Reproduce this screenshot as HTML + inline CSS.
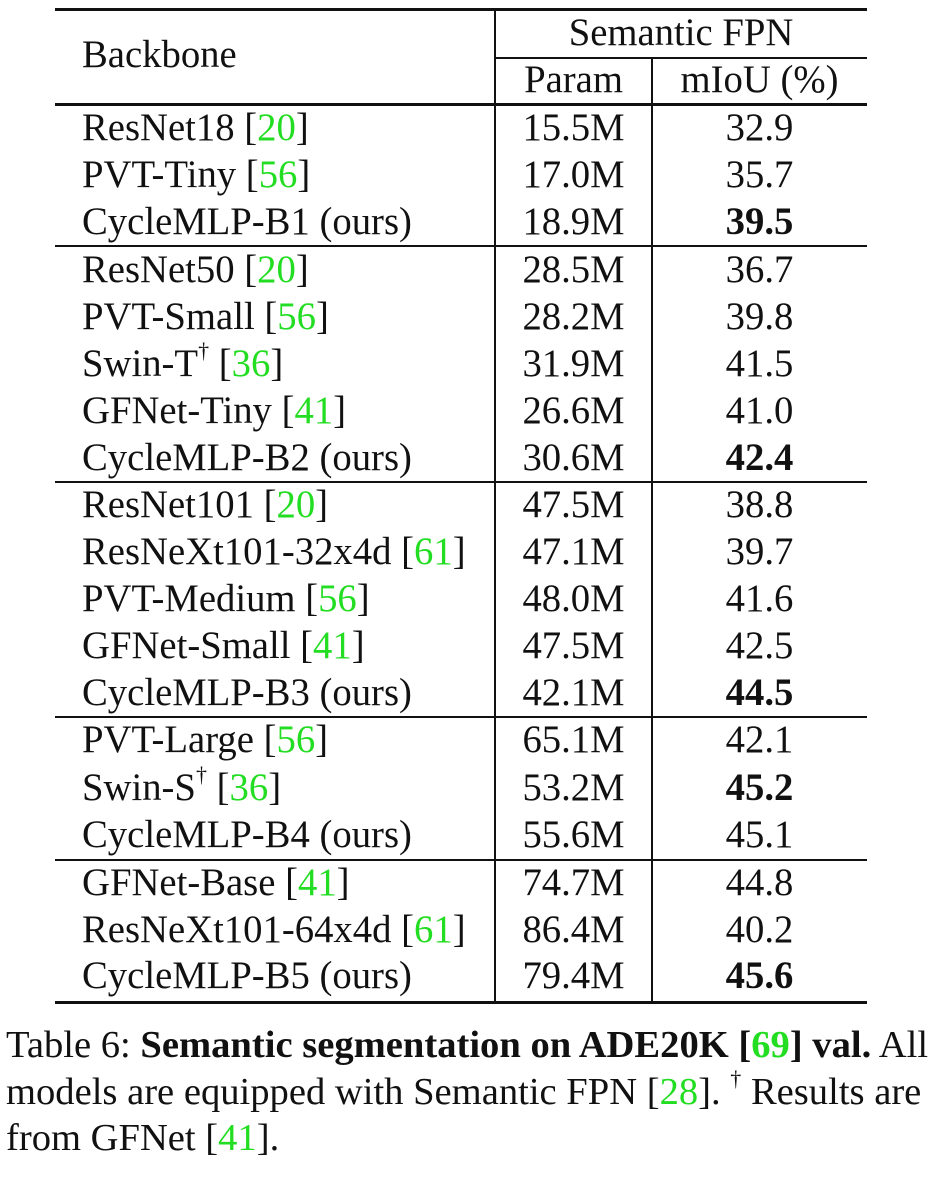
<!DOCTYPE html>
<html><head><meta charset="utf-8"><style>
body{margin:0;width:936px;height:1182px;background:#fff;position:relative;overflow:hidden;font-family:"Liberation Serif",serif;color:#111;}
.h{position:absolute;background:#111;}
.t{position:absolute;font-size:38.7px;line-height:46px;white-space:nowrap;}
.c1{left:82px;}
.c2{left:495px;width:157px;text-align:center;}
.c3{left:652px;width:215px;text-align:center;}
.g{color:#22dd22;}
b{font-weight:bold;}
.cap{position:absolute;left:6px;font-size:38.6px;line-height:46px;white-space:nowrap;}
sup{font-size:22px;vertical-align:top;line-height:0;position:relative;top:10px;}
</style></head><body>
<div class="h" style="left:55px;top:8px;width:812px;height:3px"></div>
<div class="h" style="left:495px;top:57px;width:372px;height:2px"></div>
<div class="h" style="left:55px;top:103px;width:812px;height:3px"></div>
<div class="h" style="left:55px;top:245px;width:812px;height:2px"></div>
<div class="h" style="left:55px;top:481px;width:812px;height:2px"></div>
<div class="h" style="left:55px;top:716px;width:812px;height:2px"></div>
<div class="h" style="left:55px;top:859px;width:812px;height:2px"></div>
<div class="h" style="left:55px;top:1001px;width:812px;height:3px"></div>
<div class="h" style="left:494px;top:10px;width:1.5px;height:992px"></div>
<div class="h" style="left:651px;top:58px;width:1.5px;height:944px"></div>

<div class="t c1" style="top:32px">Backbone</div>
<div class="t" style="left:495px;width:372px;text-align:center;top:10px">Semantic FPN</div>
<div class="t c2" style="top:57px">Param</div>
<div class="t c3" style="top:57px">mIoU (%)</div>

<div class="t c1" style="top:105px">ResNet18 [<span class="g">20</span>]</div><div class="t c2" style="top:105px">15.5M</div><div class="t c3" style="top:105px">32.9</div>
<div class="t c1" style="top:152px">PVT-Tiny [<span class="g">56</span>]</div><div class="t c2" style="top:152px">17.0M</div><div class="t c3" style="top:152px">35.7</div>
<div class="t c1" style="top:199px">CycleMLP-B1 (ours)</div><div class="t c2" style="top:199px">18.9M</div><div class="t c3" style="top:199px"><b>39.5</b></div>

<div class="t c1" style="top:247px">ResNet50 [<span class="g">20</span>]</div><div class="t c2" style="top:247px">28.5M</div><div class="t c3" style="top:247px">36.7</div>
<div class="t c1" style="top:294px">PVT-Small [<span class="g">56</span>]</div><div class="t c2" style="top:294px">28.2M</div><div class="t c3" style="top:294px">39.8</div>
<div class="t c1" style="top:341px">Swin-T<sup>†</sup> [<span class="g">36</span>]</div><div class="t c2" style="top:341px">31.9M</div><div class="t c3" style="top:341px">41.5</div>
<div class="t c1" style="top:388px">GFNet-Tiny [<span class="g">41</span>]</div><div class="t c2" style="top:388px">26.6M</div><div class="t c3" style="top:388px">41.0</div>
<div class="t c1" style="top:435px">CycleMLP-B2 (ours)</div><div class="t c2" style="top:435px">30.6M</div><div class="t c3" style="top:435px"><b>42.4</b></div>

<div class="t c1" style="top:482px">ResNet101 [<span class="g">20</span>]</div><div class="t c2" style="top:482px">47.5M</div><div class="t c3" style="top:482px">38.8</div>
<div class="t c1" style="top:529px">ResNeXt101-32x4d [<span class="g">61</span>]</div><div class="t c2" style="top:529px">47.1M</div><div class="t c3" style="top:529px">39.7</div>
<div class="t c1" style="top:576px">PVT-Medium [<span class="g">56</span>]</div><div class="t c2" style="top:576px">48.0M</div><div class="t c3" style="top:576px">41.6</div>
<div class="t c1" style="top:623px">GFNet-Small [<span class="g">41</span>]</div><div class="t c2" style="top:623px">47.5M</div><div class="t c3" style="top:623px">42.5</div>
<div class="t c1" style="top:670px">CycleMLP-B3 (ours)</div><div class="t c2" style="top:670px">42.1M</div><div class="t c3" style="top:670px"><b>44.5</b></div>

<div class="t c1" style="top:717px">PVT-Large [<span class="g">56</span>]</div><div class="t c2" style="top:717px">65.1M</div><div class="t c3" style="top:717px">42.1</div>
<div class="t c1" style="top:765px">Swin-S<sup>†</sup> [<span class="g">36</span>]</div><div class="t c2" style="top:765px">53.2M</div><div class="t c3" style="top:765px"><b>45.2</b></div>
<div class="t c1" style="top:812px">CycleMLP-B4 (ours)</div><div class="t c2" style="top:812px">55.6M</div><div class="t c3" style="top:812px">45.1</div>

<div class="t c1" style="top:860px">GFNet-Base [<span class="g">41</span>]</div><div class="t c2" style="top:860px">74.7M</div><div class="t c3" style="top:860px">44.8</div>
<div class="t c1" style="top:907px">ResNeXt101-64x4d [<span class="g">61</span>]</div><div class="t c2" style="top:907px">86.4M</div><div class="t c3" style="top:907px">40.2</div>
<div class="t c1" style="top:953px">CycleMLP-B5 (ours)</div><div class="t c2" style="top:953px">79.4M</div><div class="t c3" style="top:953px"><b>45.6</b></div>

<div class="cap" style="top:1022px">Table 6: <b>Semantic segmentation on ADE20K [<span class="g">69</span>] val.</b> All</div>
<div class="cap" style="top:1069px">models are equipped with Semantic FPN [<span class="g">28</span>]. <sup>†</sup> Results are</div>
<div class="cap" style="top:1115px">from GFNet [<span class="g">41</span>].</div>
</body></html>
